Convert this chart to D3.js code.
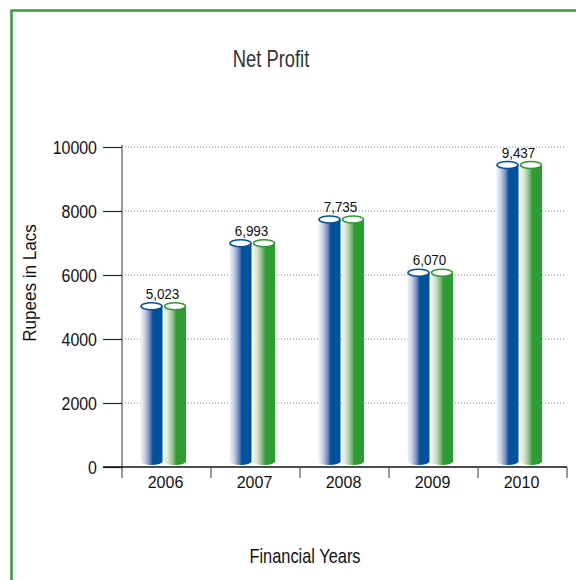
<!DOCTYPE html>
<html>
<head>
<meta charset="utf-8">
<script src="https://cdn.jsdelivr.net/npm/d3@7"></script>
<style>
  html, body { margin: 0; padding: 0; background: #fff; }
  svg { display: block; }
</style>
</head>
<body>
<svg id="chart" width="576" height="580"></svg>
<script>
// ---- data ----
const years = ["2006", "2007", "2008", "2009", "2010"];
const netProfit = [5023, 6993, 7735, 6070, 9437];
const valueLabels = ["5,023", "6,993", "7,735", "6,070", "9,437"];
const yTickValues = [0, 2000, 4000, 6000, 8000, 10000];
const seriesKeys = ["blue", "green"];
const seriesColors = ["#00529c", "#2e9b33"];

const title = "Net Profit";
const yTitle = "Rupees in Lacs";
const xTitle = "Financial Years";

// ---- layout ----
const svg = d3.select("#chart");
const plot = { left: 122, right: 567, top: 147, bottom: 467 };
const font = "'Liberation Sans', Arial, sans-serif";

// condensed text helper (horizontal squeeze to imitate a narrow face)
function condensedText(parent, tx, ty, str, size, sx, opts = {}) {
  const g = parent.append("g")
    .attr("transform", `translate(${tx},${ty}) ${opts.rotate ? "rotate(" + opts.rotate + ")" : ""} scale(${sx},1)`);
  return g.append("text")
    .attr("x", 0).attr("y", 0)
    .attr("text-anchor", opts.anchor || "middle")
    .attr("font-family", font).attr("font-size", size)
    .attr("fill", opts.fill || "#111")
    .attr("dy", opts.dy || null)
    .text(str);
}

// border (left and top visible)
svg.append("path")
  .attr("d", "M11.5,600 L11.5,10.5 L700,10.5")
  .attr("fill", "none").attr("stroke", "#3a9b3a").attr("stroke-width", 2.5);

const x = d3.scaleBand().domain(years).range([plot.left, plot.right]).padding(0);
const y = d3.scaleLinear().domain([0, 10000]).range([plot.bottom, plot.top]);
const barW = 22, gap = 2, pairShift = -3;
const sub = d3.scaleBand().domain(seriesKeys)
  .range([0, 2 * barW + gap]).paddingInner(gap / (2 * barW + gap));

// gradients
const defs = svg.append("defs");
const gradStops = {
  blue: [[0, "#f2f3fa"], [0.2, "#c9cfe7"], [0.42, "#6f88c2"], [0.56, "#00529c"], [1, "#00529c"]],
  green: [[0, "#f3f7f0"], [0.2, "#d2e5cc"], [0.42, "#7fbd7d"], [0.56, "#2e9b33"], [1, "#2e9b33"]]
};
seriesKeys.forEach(k => {
  const g = defs.append("linearGradient").attr("id", "g-" + k)
    .attr("x1", "0%").attr("x2", "100%").attr("y1", "0%").attr("y2", "0%");
  gradStops[k].forEach(s => g.append("stop").attr("offset", s[0]).attr("stop-color", s[1]));
});

// gridlines
svg.append("g").selectAll("line")
  .data(yTickValues.filter(v => v > 0))
  .join("line")
  .attr("x1", plot.left).attr("x2", plot.right - 2)
  .attr("y1", d => y(d)).attr("y2", d => y(d))
  .attr("stroke", "#8a8a8a").attr("stroke-width", 1)
  .attr("stroke-dasharray", "1,2");

// y axis ticks (via d3 axis) with condensed labels
const yAxis = d3.axisLeft(y).tickValues(yTickValues).tickSize(19).tickFormat(() => "");
const yg = svg.append("g").attr("transform", `translate(${plot.left},0)`).call(yAxis);
yg.select(".domain").remove();
yg.selectAll(".tick line").attr("stroke", "#222").attr("stroke-width", 1.2);
yg.selectAll(".tick text").remove();
yTickValues.forEach(v => {
  condensedText(svg, plot.left - 25, y(v), d3.format("d")(v), 19, 0.84, { anchor: "end", dy: "0.35em" });
});
svg.append("line")
  .attr("x1", plot.left).attr("x2", plot.left)
  .attr("y1", plot.top - 2).attr("y2", plot.bottom + 11)
  .attr("stroke", "#555").attr("stroke-width", 1.2);

// x axis
svg.append("line")
  .attr("x1", plot.left - 19).attr("x2", plot.right)
  .attr("y1", plot.bottom).attr("y2", plot.bottom)
  .attr("stroke", "#111").attr("stroke-width", 1.3);
const boundaries = years.map(d => x(d)).concat([x(years[years.length - 1]) + x.bandwidth()]);
svg.append("g").selectAll("line").data(boundaries.slice(1)).join("line")
  .attr("x1", d => d).attr("x2", d => d)
  .attr("y1", plot.bottom).attr("y2", plot.bottom + 11)
  .attr("stroke", "#555").attr("stroke-width", 1.2);
svg.append("g").selectAll("text").data(years).join("text")
  .attr("x", d => x(d) + x.bandwidth() / 2 - 1)
  .attr("y", plot.bottom + 21)
  .attr("text-anchor", "middle")
  .attr("font-family", font).attr("font-size", 16).attr("fill", "#111")
  .text(d => d);

// cylinders
const ry = 3.5;
const bars = svg.append("g");
years.forEach((yr, i) => {
  const pairLeft = x(yr) + x.bandwidth() / 2 - (2 * barW + gap) / 2 + pairShift;
  seriesKeys.forEach((k, si) => {
    const x0 = pairLeft + sub(k);
    const yt = y(netProfit[i]);
    const yb = y(0) - 2;
    const rx = barW / 2;
    const path = `M${x0},${yt} L${x0},${yb - ry} A${rx},${ry} 0 0 0 ${x0 + barW},${yb - ry} L${x0 + barW},${yt} Z`;
    bars.append("path").attr("d", path).attr("fill", `url(#g-${k})`);
    bars.append("ellipse")
      .attr("cx", x0 + rx).attr("cy", yt)
      .attr("rx", rx - 0.5).attr("ry", ry)
      .attr("fill", "#fff").attr("stroke", seriesColors[si]).attr("stroke-width", 1.6);
  });
  condensedText(svg, x(yr) + x.bandwidth() / 2 + pairShift - 1, y(netProfit[i]) - ry - 4,
    valueLabels[i], 15, 0.9);
});

// titles
condensedText(svg, 271, 67, title, 23, 0.8, { fill: "#333" });
condensedText(svg, 36, 283, yTitle, 18, 0.95, { rotate: -90 });
condensedText(svg, 305, 563, xTitle, 20, 0.82);
</script>
</body>
</html>
